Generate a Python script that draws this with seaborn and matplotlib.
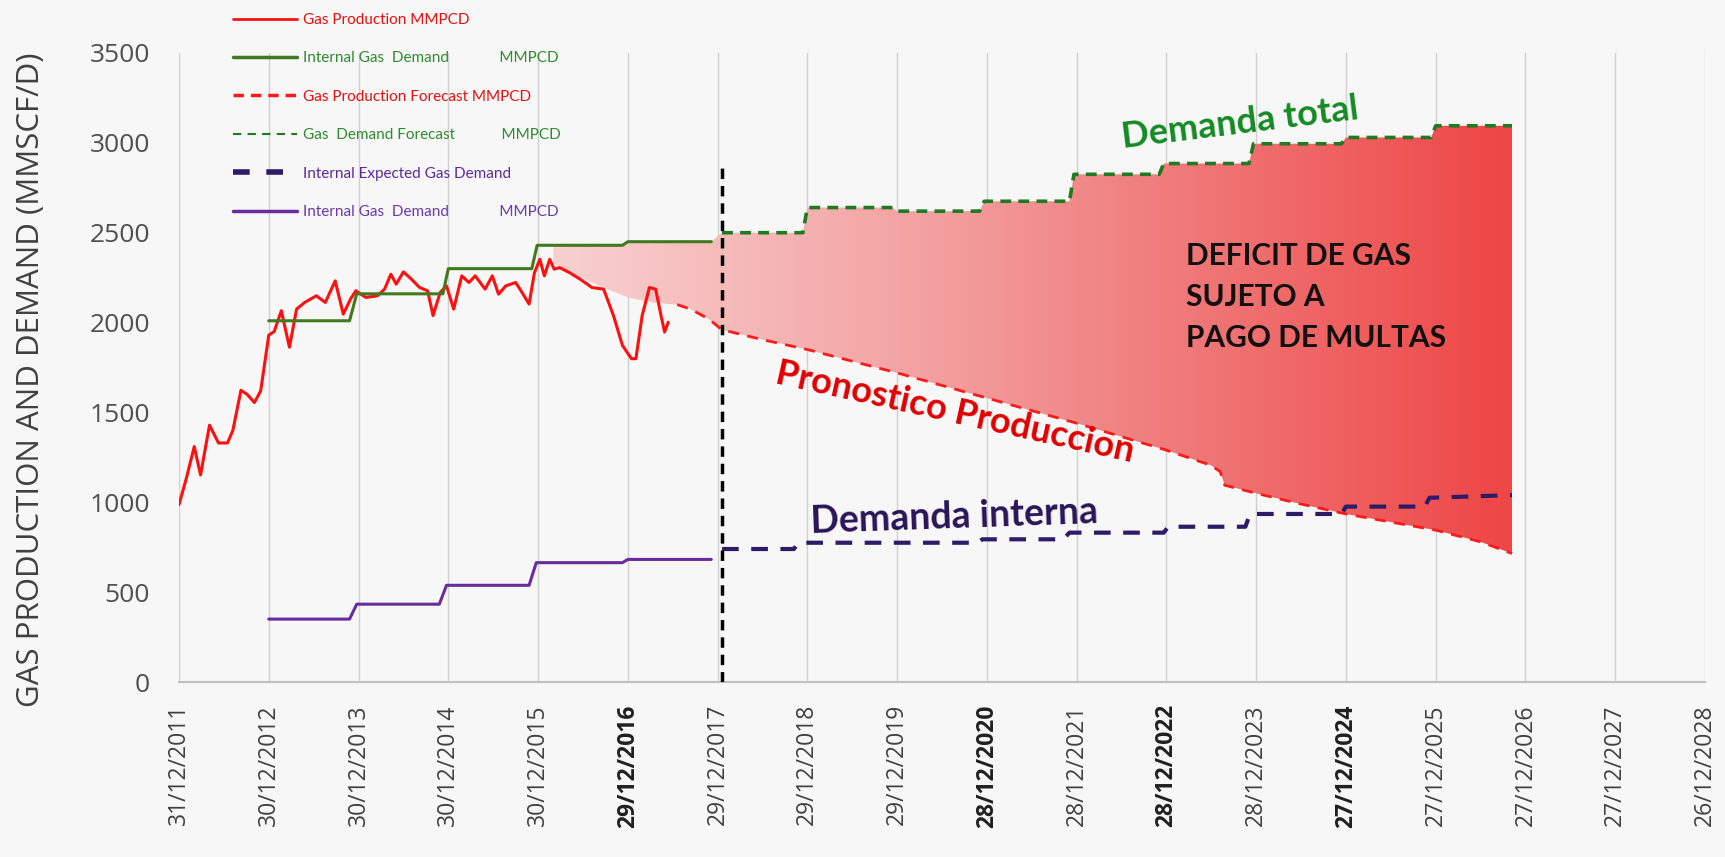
import numpy as np
import matplotlib
matplotlib.use('Agg')
import matplotlib.pyplot as plt
import seaborn as sns
from matplotlib.colors import LinearSegmentedColormap
from matplotlib.lines import Line2D
from matplotlib.patches import PathPatch

# x axis: years counted from 31/12/2011 (one tick every 365 days)
tick_labels = ['31/12/2011', '30/12/2012', '30/12/2013', '30/12/2014', '30/12/2015',
               '29/12/2016', '29/12/2017', '29/12/2018', '29/12/2019', '28/12/2020',
               '28/12/2021', '28/12/2022', '28/12/2023', '27/12/2024', '27/12/2025',
               '27/12/2026', '27/12/2027', '26/12/2028']
bold_ticks = ['29/12/2016', '28/12/2020', '28/12/2022', '27/12/2024']

# actual gas production (MMPCD)
prod_years = [0.00, 0.08, 0.17, 0.24, 0.34, 0.44, 0.54, 0.60, 0.69, 0.76, 0.84, 0.91,
              1.00, 1.06, 1.14, 1.23, 1.31, 1.40, 1.53, 1.63, 1.74, 1.83, 1.91, 1.97,
              2.08, 2.21, 2.29, 2.36, 2.42, 2.50, 2.59, 2.68, 2.77, 2.83, 2.91, 2.98,
              3.06, 3.15, 3.23, 3.30, 3.41, 3.49, 3.56, 3.64, 3.75, 3.81, 3.90, 3.96,
              4.02, 4.07, 4.13, 4.18, 4.24, 4.35, 4.47, 4.60, 4.73, 4.84, 4.94, 5.04,
              5.09, 5.16, 5.24, 5.31, 5.37, 5.41, 5.45]
prod_vals = [987, 1130, 1310, 1152, 1429, 1330, 1330, 1400, 1623, 1600, 1555, 1620,
             1930, 1950, 2066, 1863, 2075, 2112, 2149, 2112, 2232, 2047, 2130, 2177,
             2140, 2149, 2186, 2269, 2214, 2282, 2241, 2195, 2177, 2039, 2168, 2204,
             2075, 2260, 2223, 2260, 2186, 2260, 2158, 2204, 2223, 2177, 2103, 2278,
             2352, 2260, 2352, 2297, 2306, 2278, 2241, 2195, 2186, 2039, 1873, 1799,
             1799, 2039, 2195, 2186, 2039, 1947, 2002]

# gas production forecast
fc_years = [4.17, 4.40, 4.70, 5.00, 5.30, 5.55, 5.70, 5.90, 6.05, 6.50, 7.00, 7.50,
            8.00, 8.50, 9.00, 9.50, 10.00, 10.50, 11.00, 11.50, 11.60, 11.65, 12.00,
            12.50, 13.00, 13.50, 14.00, 14.50, 14.85]
fc_vals = [2330, 2270, 2200, 2140, 2110, 2100, 2075, 2020, 1960, 1905, 1850, 1785,
           1720, 1650, 1580, 1510, 1440, 1365, 1290, 1205, 1170, 1095, 1050,
           990, 935, 890, 845, 780, 715]

# internal gas demand (green, actual)
dem_years = [1.00, 1.90, 1.98, 2.94, 3.00, 3.93, 3.99, 4.94, 5.00, 5.93]
dem_vals = [2010, 2010, 2160, 2160, 2300, 2300, 2430, 2430, 2450, 2450]

# gas demand forecast (green dashed)
dfc_years = [6.05, 6.95, 7.00, 7.95, 8.00, 8.92, 8.97, 9.92, 9.97, 10.92, 10.97,
             11.92, 11.97, 12.95, 13.00, 13.95, 14.00, 14.85]
dfc_vals = [2500, 2500, 2640, 2640, 2620, 2620, 2675, 2675, 2825, 2825, 2885,
            2885, 2995, 2995, 3030, 3030, 3095, 3095]

# internal demand (purple, actual)
int_years = [1.00, 1.90, 1.98, 2.90, 2.98, 3.90, 3.98, 4.94, 5.00, 5.93]
int_vals = [350, 350, 433, 433, 538, 538, 664, 664, 682, 682]

# internal expected demand (purple dashed)
iexp_years = [6.05, 6.85, 6.90, 8.90, 8.95, 9.85, 9.92, 10.97, 11.02, 11.88, 11.93,
              12.95, 13.00, 13.88, 13.93, 14.85]
iexp_vals = [740, 740, 775, 775, 794, 794, 831, 831, 864, 864, 935,
             935, 976, 976, 1025, 1040]

forecast_start = 6.05
marker_top = 2880

sns.set_style('white')
plt.rcParams['font.family'] = ['Open Sans', 'DejaVu Sans']

bg = '#f7f7f7'
fig = plt.figure(figsize=(17.25, 8.57), dpi=100, facecolor=bg)
ax = fig.add_axes([179 / 1725, 1 - 682 / 857, 1526 / 1725, 629 / 857])
ax.set_facecolor(bg)

# deficit area with a left-to-right gradient
dem_all_years = dem_years + dfc_years
dem_all_vals = dem_vals + dfc_vals
x_fill = np.array(sorted(set([y for y in fc_years + dem_all_years
                              if fc_years[0] <= y <= fc_years[-1]])))
top = np.interp(x_fill, dem_all_years, dem_all_vals)
bottom = np.interp(x_fill, fc_years, fc_vals)
poly = ax.fill_between(x_fill, bottom, top, facecolor='none', edgecolor='none')
clip = PathPatch(poly.get_paths()[0], transform=ax.transData, facecolor='none',
                 edgecolor='none')
ax.add_patch(clip)
cmap = LinearSegmentedColormap.from_list('deficit', ['#f8d0d0', '#f4a8a8', '#f07878', '#ee4646'])
grad = np.linspace(0, 1, 256).reshape(1, -1)
im = ax.imshow(grad, cmap=cmap, aspect='auto', extent=[fc_years[0], fc_years[-1], 0, 3500],
               zorder=1, interpolation='bicubic')
im.set_clip_path(clip)

# lines
sns.lineplot(x=prod_years, y=prod_vals, ax=ax, color='#ff1010', lw=2.2, zorder=4)
fc_mask = np.array(fc_years) >= 5.5
sns.lineplot(x=np.array(fc_years)[fc_mask], y=np.array(fc_vals)[fc_mask], ax=ax,
             color='#ff1a1a', lw=2, ls=(0, (4, 3)), zorder=3)
sns.lineplot(x=dem_years, y=dem_vals, ax=ax, color='#3f7a1e', lw=2.2, zorder=4)
sns.lineplot(x=dfc_years, y=dfc_vals, ax=ax, color='#1f7a22', lw=2.6, ls=(0, (3, 2)), zorder=4)
sns.lineplot(x=int_years, y=int_vals, ax=ax, color='#6a2c9c', lw=2.2, zorder=4)
sns.lineplot(x=iexp_years, y=iexp_vals, ax=ax, color='#2d1b66', lw=3, ls=(0, (4, 3)), zorder=4)
ax.plot([forecast_start, forecast_start], [0, marker_top], color='black', lw=2.5,
        ls=(0, (3, 2)), zorder=5)

# axes styling
ax.set_xlim(0, len(tick_labels) - 1)
ax.set_ylim(0, 3500)
ax.set_xticks(range(len(tick_labels)))
ax.set_xticklabels(tick_labels, rotation=90, fontsize=16.5, color='#404040')
for lab in ax.get_xticklabels():
    if lab.get_text() in bold_ticks:
        lab.set_fontweight('bold')
        lab.set_color('#202020')
ax.set_yticks(range(0, 3501, 500))
ax.tick_params(axis='y', labelsize=19, colors='#505050', length=0, pad=21)
ax.tick_params(axis='x', length=0, pad=16)
ax.grid(axis='x', color='#d0d0d0', lw=1)
ax.grid(axis='y', visible=False)
for s in ['left', 'right', 'top']:
    ax.spines[s].set_visible(False)
ax.spines['bottom'].set_color('#c0c0c0')
ax.spines['bottom'].set_linewidth(1.5)
ax.set_xlabel('')
ax.set_ylabel('GAS PRODUCTION AND DEMAND (MMSCF/D)', fontsize=22.5, color='#404040')
ax.yaxis.set_label_coords(-0.087, 0.48)

# annotations
ax.text(11.82, 3110, 'Demanda total', color='#148a24', fontsize=26, fontweight='bold',
        family='Lato', rotation=7, ha='center', va='center', zorder=6)
ax.text(11.22, 2446, 'DEFICIT DE GAS\nSUJETO A\nPAGO DE MULTAS', color='#111111',
        fontsize=21.5, fontweight='bold', family='Lato', ha='left', va='top',
        linespacing=1.55, zorder=6)
ax.text(8.64, 1502, 'Pronostico Produccion', color='#e00000', fontsize=26,
        fontweight='bold', family='Lato', rotation=-12.5, ha='center', va='center', zorder=6)
ax.text(8.64, 918, 'Demanda interna', color='#2a1458', fontsize=27, fontweight='bold',
        family='Lato', rotation=2, ha='center', va='center', zorder=6)

# legend
handles = [Line2D([], [], color='#ff1010', lw=2),
           Line2D([], [], color='#3f7a1e', lw=2.5),
           Line2D([], [], color='#ff1a1a', lw=2.5, ls=(0, (3, 2))),
           Line2D([], [], color='#1f7a22', lw=1.5, ls=(0, (4, 3))),
           Line2D([], [], color='#2d1b66', lw=4, ls=(0, (3, 3))),
           Line2D([], [], color='#6a2c9c', lw=2.5)]
labels = ['Gas Production MMPCD',
          'Internal Gas  Demand             MMPCD',
          'Gas Production Forecast MMPCD',
          'Gas  Demand Forecast            MMPCD',
          'Internal Expected Gas Demand',
          'Internal Gas  Demand             MMPCD']
label_colors = ['#e81010', '#2e8b2e', '#e81010', '#2e8b2e', '#5a2a9a', '#6a3aa8']
fig.legend(handles, labels, loc='upper left', bbox_to_anchor=(0.135, 0.985),
           frameon=False, labelcolor=label_colors, prop={'family': 'Lato', 'size': 11},
           handlelength=4.2, handletextpad=0.4, labelspacing=1.6, borderpad=0,
           borderaxespad=0)

fig.savefig('out.png', dpi=100, facecolor=bg)
